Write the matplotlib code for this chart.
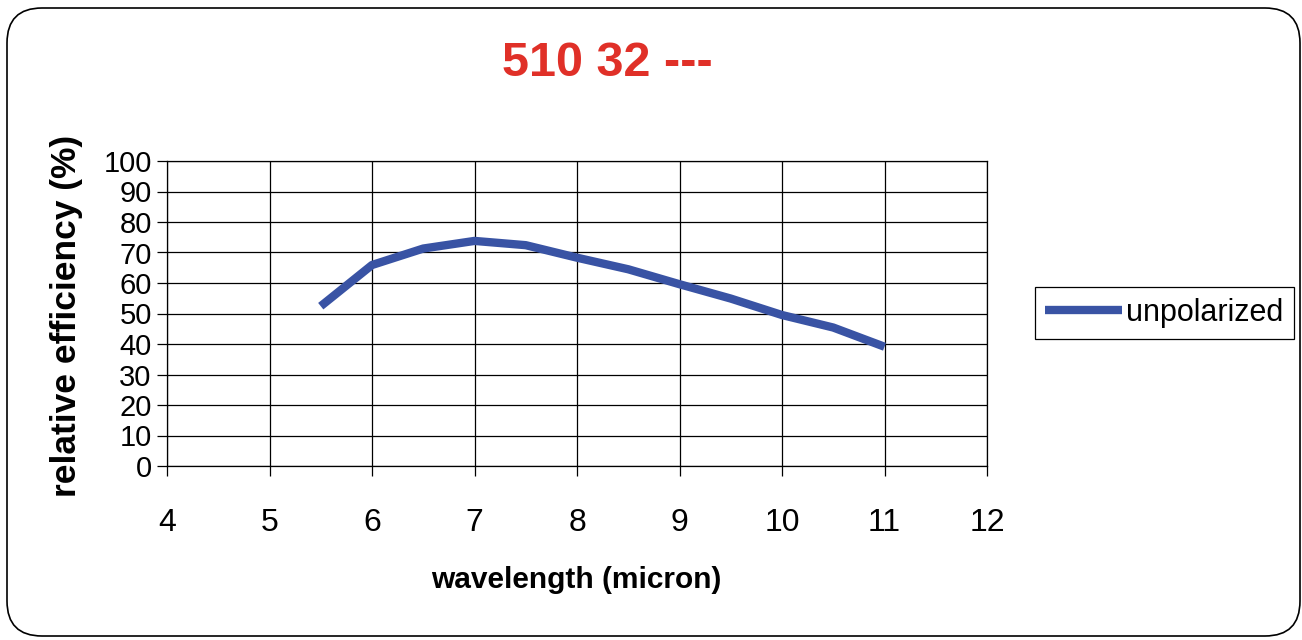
import matplotlib
matplotlib.use('Agg')
import matplotlib.pyplot as plt
from matplotlib.patches import FancyBboxPatch

plt.rcParams['font.family'] = ['Liberation Sans', 'DejaVu Sans']

# data
wavelength = [5.5, 6.0, 6.5, 7.0, 7.5, 8.0, 8.5, 9.0, 9.5, 10.0, 10.5, 11.0]
efficiency = [52.4, 65.9, 71.3, 73.8, 72.4, 68.3, 64.5, 59.6, 54.9, 49.5, 45.4, 39.1]

title = '510 32 ---'
series_name = 'unpolarized'
x_ticks = [4, 5, 6, 7, 8, 9, 10, 11, 12]
y_ticks = [0, 10, 20, 30, 40, 50, 60, 70, 80, 90, 100]

W, H = 1302, 640
fig = plt.figure(figsize=(W / 100, H / 100), dpi=100)

# rounded frame around the whole chart
frame = FancyBboxPatch((7 / W, 4 / H), 1293 / W, 628 / H,
                       boxstyle='round,pad=0,rounding_size=%f' % (35 / W),
                       mutation_aspect=W / H, transform=fig.transFigure,
                       fill=False, edgecolor='black', linewidth=1.2)
fig.patches.append(frame)

ax = fig.add_axes([167 / W, (640 - 466) / H, 820 / W, 305 / H])
ax.plot(wavelength, efficiency, color='#3953a4', linewidth=6, label=series_name,
        solid_capstyle='butt')

ax.set_xlim(4, 12)
ax.set_ylim(0, 100)
ax.set_xticks(x_ticks)
ax.set_yticks(y_ticks)
ax.grid(True, color='black', linewidth=0.9)
ax.set_axisbelow(True)
for s in ax.spines.values():
    s.set_color('black')
    s.set_linewidth(0.9)
ax.tick_params(direction='out', length=7, width=0.9, pad=3)
ax.tick_params(axis='x', labelsize=23, pad=23)
ax.tick_params(axis='y', labelsize=21, pad=4)

ax.set_xlabel('wavelength (micron)', fontsize=21.5, fontweight='bold', va='center')
ax.xaxis.set_label_coords(0.499, -0.375)
ax.set_ylabel('relative efficiency (%)', fontsize=25.5, fontweight='bold', va='center')
ax.yaxis.set_label_coords(-0.123, 0.493)

fig.text(607 / W, 1 - 63 / H, title, color='#e03028', fontsize=35,
         fontweight='bold', ha='center', va='center')

leg = fig.legend(loc='center', bbox_to_anchor=(1164 / W, 1 - 313 / H),
                 fontsize=22, handlelength=2.5, handletextpad=0.13,
                 borderpad=0.35, fancybox=False, edgecolor='black',
                 framealpha=1)
leg.get_frame().set_linewidth(0.9)

fig.savefig('out.png', dpi=100)
